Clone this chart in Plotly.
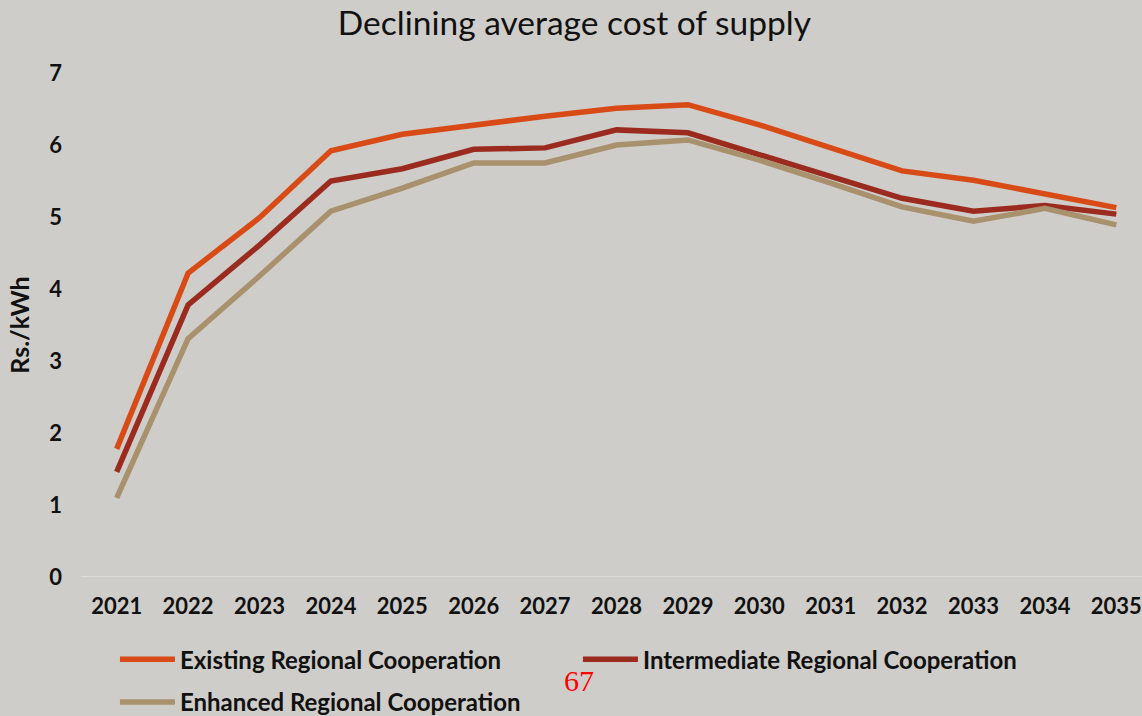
import plotly.graph_objects as go

years = ["2021", "2022", "2023", "2024", "2025", "2026", "2027", "2028",
         "2029", "2030", "2031", "2032", "2033", "2034", "2035"]
existing = [1.78, 4.22, 4.99, 5.92, 6.15, 6.28, 6.40, 6.51, 6.56, 6.28, 5.96, 5.64, 5.51, 5.32, 5.13]
intermediate = [1.46, 3.78, 4.61, 5.50, 5.67, 5.94, 5.96, 6.21, 6.17, 5.86, 5.55, 5.26, 5.08, 5.16, 5.04]
enhanced = [1.10, 3.31, 4.18, 5.08, 5.40, 5.75, 5.75, 6.00, 6.07, 5.79, 5.47, 5.14, 4.94, 5.12, 4.89]
y_ticks = [0, 1, 2, 3, 4, 5, 6, 7]

series = [
    ("Existing Regional Cooperation", existing, "#D84B16", "legend"),
    ("Intermediate Regional Cooperation", intermediate, "#9B2B1F", "legend"),
    ("Enhanced Regional Cooperation", enhanced, "#A8916C", "legend2"),
]

bg = "#CFCDC9"
font_family = "Lato, 'Open Sans', sans-serif"

fig = go.Figure()
for name, vals, color, leg in series:
    fig.add_trace(go.Scatter(
        x=years, y=vals, mode="lines", name=name, legend=leg,
        line=dict(color=color, width=5.5, shape="linear"),
    ))

legend_style = dict(
    orientation="h", xanchor="left", yanchor="top", yref="container",
    entrywidth=393, entrywidthmode="pixels", itemwidth=55,
    font=dict(size=24, family=font_family, weight="bold"),
    bgcolor="rgba(0,0,0,0)",
)

fig.update_layout(
    width=1142, height=716,
    paper_bgcolor=bg, plot_bgcolor=bg,
    margin=dict(l=81, r=0, t=73, b=139, autoexpand=False),
    title=dict(text="Declining average cost of supply", x=0.503, xanchor="center",
               y=0.968, yanchor="middle",
               font=dict(family=font_family, size=33.5, color="#111111")),
    font=dict(family=font_family, color="#111111"),
    xaxis=dict(
        type="category", range=[-0.5, 14.36], showgrid=False, showline=False,
        zeroline=False, ticks="", ticklabelstandoff=14,
        tickfont=dict(size=22, family=font_family, weight="bold"),
    ),
    yaxis=dict(
        range=[0, 7], tickvals=y_ticks, showgrid=False, zeroline=False,
        showline=False, ticks="", ticklabelstandoff=18,
        tickfont=dict(size=22, family=font_family, weight="bold"),
        title=dict(text="Rs./kWh", font=dict(size=25, family=font_family, weight="bold"),
                   standoff=12),
    ),
    legend=dict(x=0.032, y=0.1103, **legend_style),
    legend2=dict(x=0.032, y=0.0503, **legend_style),
    showlegend=True,
)

# baseline at y = 0
fig.add_shape(type="line", xref="paper", yref="y", x0=0, x1=1, y0=0, y1=0,
              line=dict(color="#E4E2DE", width=1.5), layer="below")

# page number
fig.add_annotation(text="67", xref="paper", yref="paper", x=0.469, y=-0.206,
                   showarrow=False, xanchor="center", yanchor="middle",
                   font=dict(family="Liberation Serif, serif", size=30, color="#FF0000"))

fig.write_html("out.html", config={"displayModeBar": False},
               post_script="document.body.style.margin='0';")
